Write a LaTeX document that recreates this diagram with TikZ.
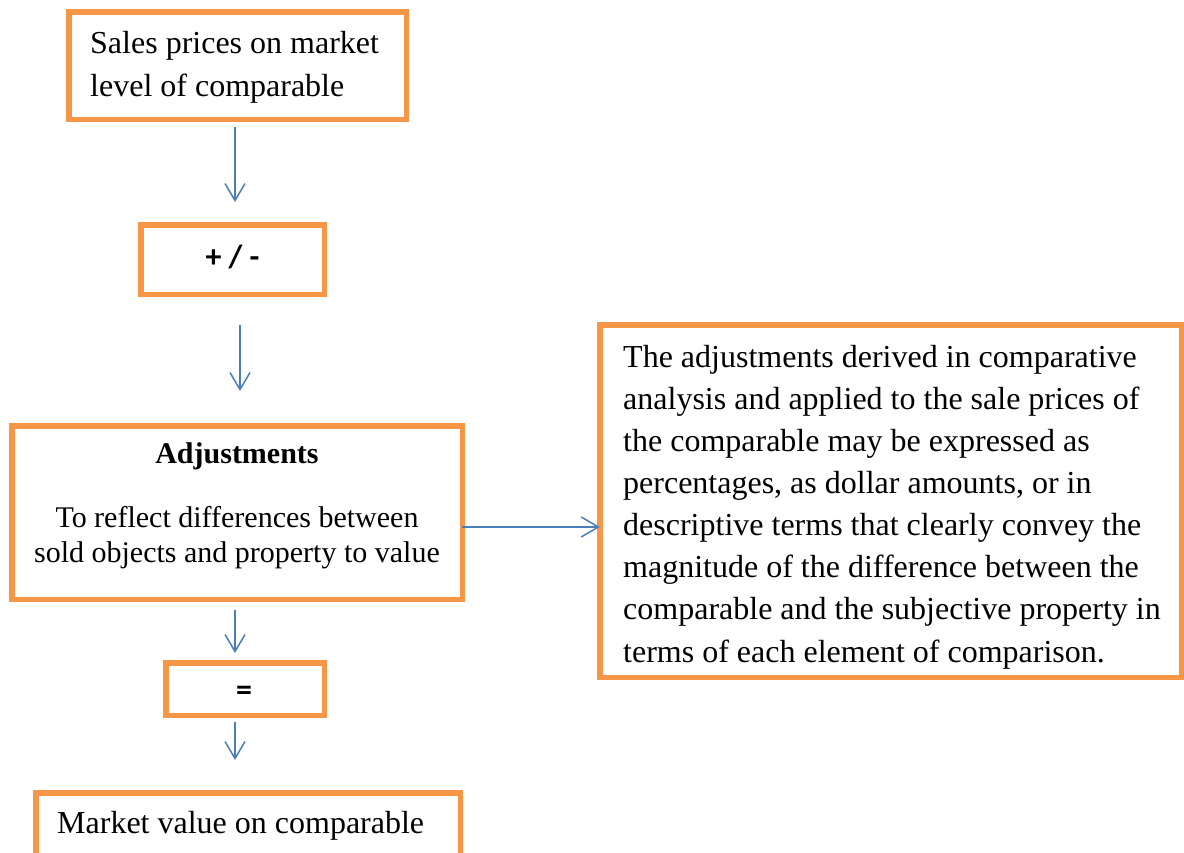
\documentclass[tikz,border=0pt]{standalone}
\usepackage{fontspec}
\setmainfont{Liberation Serif}
\newfontfamily\calib{Carlito}
\usetikzlibrary{arrows.meta}
\definecolor{borange}{HTML}{F79646}
\definecolor{cblue}{HTML}{4A7EBB}
\begin{document}
\begin{tikzpicture}[x=1pt,y=-1pt,
  box/.style={draw=borange, line width=5.5pt, fill=white, inner sep=0pt, outer sep=0pt, rectangle},
  arr/.style={draw=cblue, line width=1.5pt, -{Straight Barb[length=17pt,width=20pt,line width=1.5pt]}},
  bigtxt/.style={font=\fontsize{32}{42.5}\selectfont, inner sep=0pt},
  midtxt/.style={font=\fontsize{30}{35}\selectfont, inner sep=0pt},
  symtxt/.style={font=\calib\bfseries\fontsize{32}{38}\selectfont, inner sep=0pt}]
\useasboundingbox (0,0) rectangle (1184,852);
% boxes
\node[box, minimum width=337.5pt, minimum height=107.5pt] (b1) at (237.5,65.5) {};
\node[box, minimum width=183.5pt, minimum height=69.5pt] (b2) at (232.5,259.5) {};
\node[box, minimum width=450.5pt, minimum height=173.5pt] (b3) at (237,512.5) {};
\node[box, minimum width=158.5pt, minimum height=52.5pt] (b4) at (245,689) {};
\node[box, minimum width=424.5pt, minimum height=84.5pt] (b5) at (248,835) {};
\node[box, minimum width=581.5pt, minimum height=352.5pt] (r) at (890.5,501) {};
% texts (base anchor = baseline of the last line)
\node[bigtxt, anchor=base west, align=left] (t1) at (90,96) {Sales prices on market\\level of comparable};
\node[symtxt] (t2) at (232.5,257) {+ / -};
\node[midtxt, anchor=base, align=center] (t3) at (237,562) {\textbf{Adjustments}\\[29pt]To reflect differences between\\sold objects and property to value};
\node[symtxt] (t4) at (244,693) {=};
\node[bigtxt, anchor=base west] (t5) at (57,833) {Market value on comparable};
\node[bigtxt, anchor=base west, align=left, font=\fontsize{32}{42.1}\selectfont] (tr) at (623,662) {The adjustments derived in comparative\\analysis and applied to the sale prices of\\the comparable may be expressed as\\percentages, as dollar amounts, or in\\descriptive terms that clearly convey the\\magnitude of the difference between the\\comparable and the subjective property in\\terms of each element of comparison.};
% connectors
\draw[arr] ([xshift=-2.5pt,yshift=-7.75pt]b1.south) -- ([xshift=2.5pt,yshift=22.75pt]b2.north);
\draw[arr] ([xshift=7.5pt,yshift=-30.75pt]b2.south) -- ([xshift=3pt,yshift=34.75pt]b3.north);
\draw[arr] ([yshift=-14.5pt]b3.east) -- ([yshift=-14.5pt]b3.east -| r.west);
\draw[arr] ([xshift=-2pt,yshift=-10.75pt]b3.south) -- ([xshift=-10pt,yshift=9.75pt]b4.north);
\draw[arr] ([xshift=-10pt,yshift=-6.75pt]b4.south) -- ([xshift=-13pt,yshift=32.75pt]b5.north);
\end{tikzpicture}
\end{document}
